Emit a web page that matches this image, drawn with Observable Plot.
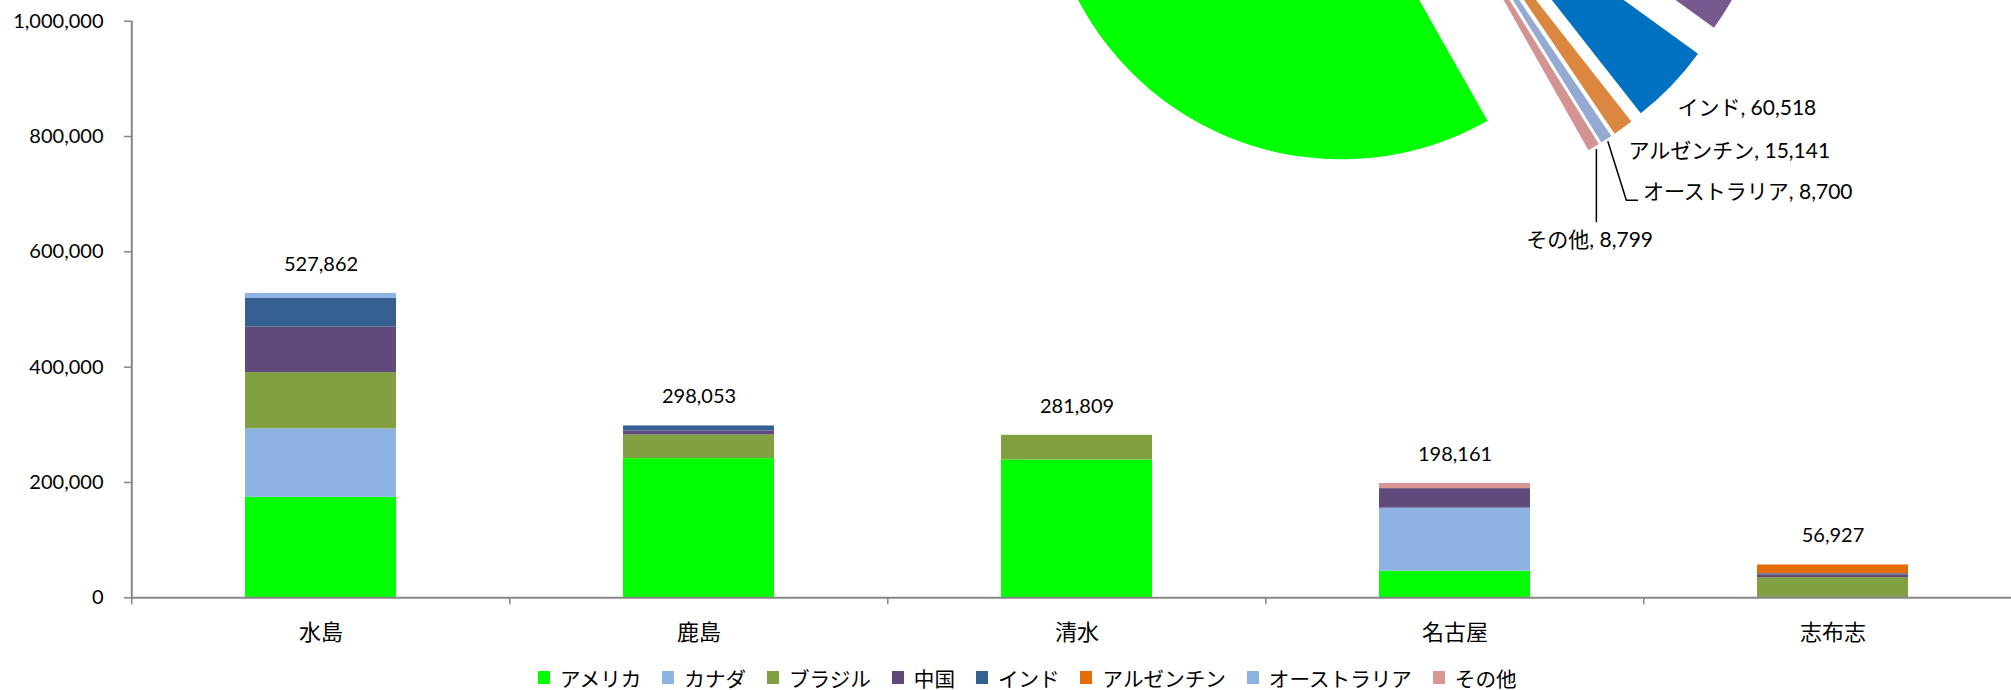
<!DOCTYPE html>
<html>
<head>
<meta charset="utf-8">
<script src="https://cdn.jsdelivr.net/npm/d3@7"></script>
<script src="https://cdn.jsdelivr.net/npm/@observablehq/plot@0.6"></script>
<style>
html, body { margin: 0; padding: 0; background: #fff; overflow: hidden; }
#chart { position: relative; width: 2011px; height: 690px; font-family: Lato, "Noto Sans CJK JP", sans-serif; }
#chart svg { max-width: none; }
#legend { position: absolute; left: 0; top: 661px; width: 2011px; display: flex; justify-content: center; box-sizing: border-box; padding-left: 64px; }
</style>
</head>
<body>
<div id="chart"></div>
<script>
// ---- data ----
const ports = ["水島", "鹿島", "清水", "名古屋", "志布志"];
const countries = ["アメリカ", "カナダ", "ブラジル", "中国", "インド", "アルゼンチン", "オーストラリア", "その他"];
const usa       = [174300, 241335, 239000, 46000, 0];
const canada    = [118700, 0, 0, 109500, 0];
const brazil    = [97600, 41000, 42809, 0, 35000];
const china     = [78762, 7000, 0, 33862, 4786];
const india     = [49800, 8718, 0, 0, 2000];
const argentina = [0, 0, 0, 0, 15141];
const australia = [8700, 0, 0, 0, 0];
const others    = [0, 0, 0, 8799, 0];
const yTicks = [0, 200000, 400000, 600000, 800000, 1000000];
const pieLabelled = ["インド", "アルゼンチン", "オーストラリア", "その他"];

// ---- styles ----
const barColors = ["#00FF00", "#8DB3E2", "#81A041", "#604A7B", "#366092", "#E46C0A", "#8DB3E2", "#D99694"];
const pieColors = ["#00FF00", "#8DB3E2", "#9BBB59", "#76598F", "#0070C0", "#DC873F", "#95AAD2", "#D39393"];
const axisGray = "#868686";
const FONT = 'Lato, "Noto Sans CJK JP", sans-serif';

const series = [usa, canada, brazil, china, india, argentina, australia, others];
const rows = [];
ports.forEach((p, i) => countries.forEach((c, k) => rows.push({port: p, country: c, value: series[k][i]})));
const totals = ports.map((p, i) => d3.sum(series, s => s[i]));
const fmt = d3.format(",");

// layout
const W = 2011, H = 650;
const xRange = [131, 2023];
const step = (xRange[1] - xRange[0]) / ports.length;

// pie layout (pixel geometry of the exploded pie)
const pieGeo = {cx: 1405.5, cy: -170.3, r: 297, explode: 72, startDeg: 150.5};
const labelGeo = {
  "インド":        {kind: "plain", dx: 6, dy: 22},
  "アルゼンチン":   {kind: "plain", dx: 5.5, dy: 23},
  "オーストラリア": {kind: "elbow", ex: 20, ey: 61, hx: 31.6, dx: 36.6, dy: 52.6},
  "その他":        {kind: "vertical", lx: 2.7, ly1: 2, ly2: 75, dx: -4, dy: 92.7}
};

function pieMark() {
  const g = d3.create("svg:g");
  const pieData = countries.map((c, k) => ({name: c, value: d3.sum(series[k]), color: pieColors[k]}));
  const a0 = pieGeo.startDeg * Math.PI / 180;
  const arcs = d3.pie().sort(null).value(d => d.value).startAngle(a0).endAngle(a0 + 2 * Math.PI)(pieData);
  const arc = d3.arc().innerRadius(0).outerRadius(pieGeo.r);
  const tips = {};
  for (const a of arcs) {
    const mid = (a.startAngle + a.endAngle) / 2;
    const ux = Math.sin(mid), uy = -Math.cos(mid);
    const ox = pieGeo.cx + pieGeo.explode * ux, oy = pieGeo.cy + pieGeo.explode * uy;
    g.append("path").attr("d", arc(a)).attr("fill", a.data.color)
      .attr("transform", `translate(${ox},${oy})`);
    tips[a.data.name] = {x: ox + pieGeo.r * ux, y: oy + pieGeo.r * uy, value: a.data.value};
  }
  for (const name of pieLabelled) {
    const t = tips[name], L = labelGeo[name];
    const text = `${name}, ${fmt(t.value)}`;
    let anchor = "start";
    if (L.kind === "elbow") {
      g.append("path").attr("fill", "none").attr("stroke", "black").attr("stroke-width", 1.5)
        .attr("d", `M${t.x + 1.5},${t.y + 2}L${t.x + L.ex},${t.y + L.ey}L${t.x + L.hx},${t.y + L.ey}`);
    } else if (L.kind === "vertical") {
      anchor = "middle";
      g.append("path").attr("fill", "none").attr("stroke", "black").attr("stroke-width", 1.5)
        .attr("d", `M${t.x + L.lx},${t.y + L.ly1}L${t.x + L.lx},${t.y + L.ly2}`);
    }
    g.append("text").attr("x", t.x + L.dx).attr("y", t.y + L.dy).attr("dy", "0.36em")
      .attr("text-anchor", anchor).attr("font-size", 21).attr("font-family", FONT)
      .attr("fill", "black").text(text);
  }
  return g.node();
}

const chart = Plot.plot({
  width: W,
  height: H,
  marginLeft: 131,
  marginRight: 0,
  marginTop: 20.7,
  marginBottom: 52.7,
  style: {fontFamily: FONT, fontSize: "20px", color: "black", background: "white"},
  x: {domain: ports, range: xRange, paddingInner: 0.6, paddingOuter: 0.3},
  y: {domain: [0, 1000000]},
  color: {domain: countries, range: barColors},
  marks: [
    Plot.barY(rows, {x: "port", y: "value", fill: "country"}),
    Plot.ruleY([0], {stroke: axisGray, strokeWidth: 2}),
    Plot.ruleX([ports[0]], {x: d => d, dx: -step / 2, stroke: axisGray, strokeWidth: 2}),
    Plot.ruleX(ports, {x: d => d, dx: -step / 2, stroke: axisGray, strokeWidth: 1.5,
      insetTop: H - 20.7 - 52.7, insetBottom: -7}),
    Plot.axisY({ticks: yTicks, tickFormat: fmt, tickSize: 7, tickPadding: 21, stroke: axisGray,
      strokeWidth: 1.5, fontSize: 20, label: null}),
    Plot.axisX({tickSize: 0, tickPadding: 27, fontSize: 22, label: null}),
    Plot.text(ports, {x: d => d, y: (d, i) => totals[i], text: (d, i) => fmt(totals[i]),
      dy: -29, fontSize: 20, fill: "black"}),
    pieMark
  ]
});
document.getElementById("chart").appendChild(chart);

const legend = Plot.legend({
  color: {type: "ordinal", domain: countries, range: barColors},
  swatchWidth: 12, swatchHeight: 13,
  style: {fontSize: "20.6px", fontFamily: FONT, color: "black", background: "transparent"}
});
const lw = document.createElement("div");
lw.id = "legend";
lw.appendChild(legend);
document.getElementById("chart").appendChild(lw);
</script>
</body>
</html>
